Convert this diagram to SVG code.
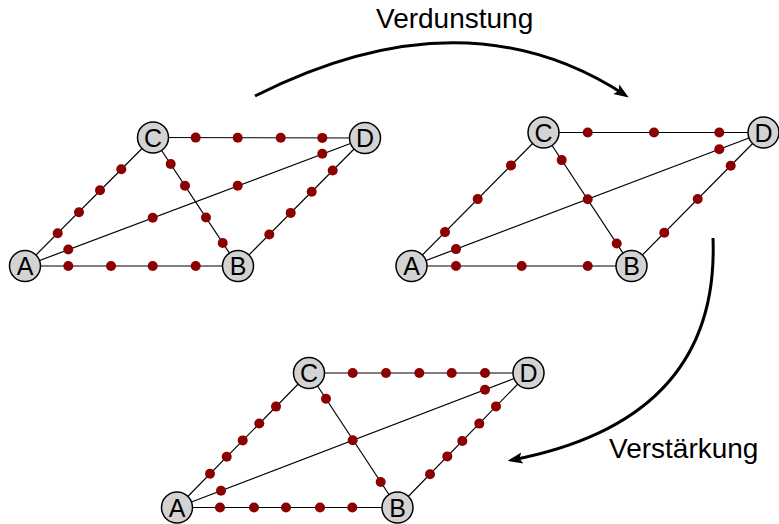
<svg xmlns="http://www.w3.org/2000/svg" xmlns:xlink="http://www.w3.org/1999/xlink" width="779" height="524" viewBox="0 0 779 524">
<defs>
<style>
.edge{stroke:#000;stroke-width:1.2;fill:none}
.node circle{fill:#d3d3d3;stroke:#000;stroke-width:1.5}
.node text{font-family:"Liberation Sans",Arial,sans-serif;font-size:25px;text-anchor:middle;fill:#000}
.dot{fill:#8b0000}
.arrow{stroke:#000;stroke-width:3;fill:none;marker-end:url(#ah)}
.label{font-family:"Liberation Sans",Arial,sans-serif;font-size:28px;fill:#000}
</style>
<marker id="ah" viewBox="0 0 10 10" refX="7" refY="5" markerWidth="5" markerHeight="5" orient="auto" markerUnits="strokeWidth">
<path d="M0,1.3 L10,5 L0,8.7 L2,5 Z" fill="#000"/>
</marker>
</defs>
<rect width="779" height="524" fill="#fff"/>

<g id="connectors">
<!-- graph 1 -->
<line class="edge" x1="25" y1="266" x2="238" y2="266"/>
<line class="edge" x1="25" y1="266" x2="153" y2="137.5"/>
<line class="edge" x1="25" y1="266" x2="365" y2="138"/>
<line class="edge" x1="153" y1="137.5" x2="365" y2="138"/>
<line class="edge" x1="153" y1="137.5" x2="238" y2="266"/>
<line class="edge" x1="238" y1="266" x2="365" y2="138"/>
<!-- graph 2 -->
<line class="edge" x1="411.5" y1="266" x2="631.5" y2="266"/>
<line class="edge" x1="411.5" y1="266" x2="543.5" y2="132.5"/>
<line class="edge" x1="411.5" y1="266" x2="763.5" y2="132.5"/>
<line class="edge" x1="543.5" y1="132.5" x2="763.5" y2="132.5"/>
<line class="edge" x1="543.5" y1="132.5" x2="631.5" y2="266"/>
<line class="edge" x1="631.5" y1="266" x2="763.5" y2="132.5"/>
<!-- graph 3 -->
<line class="edge" x1="177" y1="507.5" x2="397.5" y2="507.5"/>
<line class="edge" x1="177" y1="507.5" x2="309" y2="373"/>
<line class="edge" x1="177" y1="507.5" x2="528.5" y2="373"/>
<line class="edge" x1="309" y1="373" x2="528.5" y2="373"/>
<line class="edge" x1="309" y1="373" x2="397.5" y2="507.5"/>
<line class="edge" x1="397.5" y1="507.5" x2="528.5" y2="373"/>
<!-- transition arrows -->
<path class="arrow" d="M255,96 Q465,-10 625,95"/>
<path class="arrow" d="M713,238 Q720,420 512,460"/>
</g>

<g id="pheromones1">
<circle class="dot" cx="68.3" cy="266" r="5"/><circle class="dot" cx="111" cy="266" r="5"/><circle class="dot" cx="152.7" cy="266" r="5"/><circle class="dot" cx="195.7" cy="266" r="5"/>
<circle class="dot" cx="57.7" cy="233.3" r="5"/><circle class="dot" cx="79" cy="212.3" r="5"/><circle class="dot" cx="100" cy="190.3" r="5"/><circle class="dot" cx="121.3" cy="169.3" r="5"/>
<circle class="dot" cx="68.3" cy="249.5" r="5"/><circle class="dot" cx="152.7" cy="217.7" r="5"/><circle class="dot" cx="237.7" cy="185.7" r="5"/><circle class="dot" cx="322.3" cy="153.8" r="5"/>
<circle class="dot" cx="195.7" cy="137.6" r="5"/><circle class="dot" cx="237.7" cy="137.7" r="5"/><circle class="dot" cx="280.7" cy="137.8" r="5"/><circle class="dot" cx="322.3" cy="137.9" r="5"/>
<circle class="dot" cx="170.7" cy="164" r="5"/><circle class="dot" cx="185" cy="185.7" r="5"/><circle class="dot" cx="206" cy="217.5" r="5"/><circle class="dot" cx="222.7" cy="243" r="5"/>
<circle class="dot" cx="269.3" cy="234.5" r="5"/><circle class="dot" cx="290.7" cy="212.9" r="5"/><circle class="dot" cx="311.7" cy="191.7" r="5"/><circle class="dot" cx="332.7" cy="170.5" r="5"/>
</g>

<g id="pheromones2">
<circle class="dot" cx="456" cy="266" r="5"/><circle class="dot" cx="521.7" cy="266" r="5"/><circle class="dot" cx="587.7" cy="266" r="5"/>
<circle class="dot" cx="587.7" cy="132.5" r="5"/><circle class="dot" cx="654" cy="132.5" r="5"/><circle class="dot" cx="719.3" cy="132.5" r="5"/>
<circle class="dot" cx="456" cy="249.1" r="5"/><circle class="dot" cx="587.7" cy="199.2" r="5"/><circle class="dot" cx="719.3" cy="149.3" r="5"/>
<circle class="dot" cx="445" cy="232.1" r="5"/><circle class="dot" cx="477.7" cy="199.1" r="5"/><circle class="dot" cx="511" cy="165.4" r="5"/>
<circle class="dot" cx="561.7" cy="160.1" r="5"/><circle class="dot" cx="616.7" cy="243.5" r="5"/>
<circle class="dot" cx="664.3" cy="232.8" r="5"/><circle class="dot" cx="697.7" cy="199" r="5"/><circle class="dot" cx="730.7" cy="165.7" r="5"/>
</g>

<g id="pheromones3">
<circle class="dot" cx="220" cy="507.5" r="5"/><circle class="dot" cx="254" cy="507.5" r="5"/><circle class="dot" cx="286" cy="507.5" r="5"/><circle class="dot" cx="320" cy="507.5" r="5"/><circle class="dot" cx="352.3" cy="507.5" r="5"/>
<circle class="dot" cx="352.7" cy="373" r="5"/><circle class="dot" cx="386" cy="373" r="5"/><circle class="dot" cx="419.3" cy="373" r="5"/><circle class="dot" cx="451.7" cy="373" r="5"/><circle class="dot" cx="485" cy="373" r="5"/>
<circle class="dot" cx="221" cy="490.7" r="5"/><circle class="dot" cx="352.7" cy="440.3" r="5"/><circle class="dot" cx="485" cy="389.7" r="5"/>
<circle class="dot" cx="210" cy="473.7" r="5"/><circle class="dot" cx="226.7" cy="456.7" r="5"/><circle class="dot" cx="242.7" cy="440.4" r="5"/><circle class="dot" cx="259.3" cy="423.5" r="5"/><circle class="dot" cx="276" cy="406.6" r="5"/>
<circle class="dot" cx="326" cy="398.8" r="5"/><circle class="dot" cx="380.7" cy="482" r="5"/>
<circle class="dot" cx="430" cy="474.2" r="5"/><circle class="dot" cx="447.3" cy="456.4" r="5"/><circle class="dot" cx="462.3" cy="441" r="5"/><circle class="dot" cx="479.3" cy="423.6" r="5"/><circle class="dot" cx="496" cy="406.4" r="5"/>
</g>

<g id="g1-A" class="node"><circle cx="25" cy="266" r="15.5"/><text x="25" y="275">A</text></g>
<g id="g1-B" class="node"><circle cx="238" cy="266" r="15.5"/><text x="238" y="275">B</text></g>
<g id="g1-C" class="node"><circle cx="153" cy="137.5" r="15.5"/><text x="153" y="146.5">C</text></g>
<g id="g1-D" class="node"><circle cx="365" cy="138" r="15.5"/><text x="365" y="147">D</text></g>

<g id="g2-A" class="node"><circle cx="411.5" cy="266" r="15.5"/><text x="411.5" y="275">A</text></g>
<g id="g2-B" class="node"><circle cx="631.5" cy="266" r="15.5"/><text x="631.5" y="275">B</text></g>
<g id="g2-C" class="node"><circle cx="543.5" cy="132.5" r="15.5"/><text x="543.5" y="141.5">C</text></g>
<g id="g2-D" class="node"><circle cx="763.5" cy="132.5" r="15.5"/><text x="763.5" y="141.5">D</text></g>

<g id="g3-A" class="node"><circle cx="177" cy="507.5" r="15.5"/><text x="177" y="516.5">A</text></g>
<g id="g3-B" class="node"><circle cx="397.5" cy="507.5" r="15.5"/><text x="397.5" y="516.5">B</text></g>
<g id="g3-C" class="node"><circle cx="309" cy="373" r="15.5"/><text x="309" y="382">C</text></g>
<g id="g3-D" class="node"><circle cx="528.5" cy="373" r="15.5"/><text x="528.5" y="382">D</text></g>

<text class="label" x="376" y="28">Verdunstung</text>
<text class="label" x="609" y="458">Verstärkung</text>
</svg>
